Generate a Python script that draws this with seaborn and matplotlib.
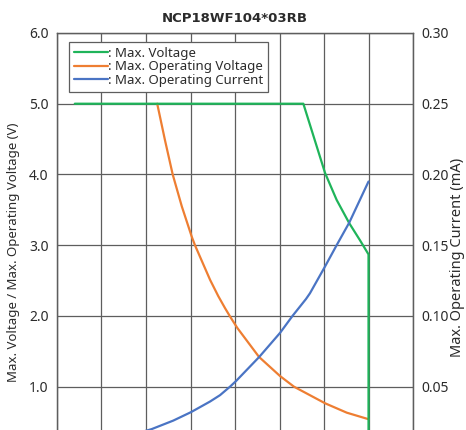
import matplotlib
matplotlib.use("Agg")
import matplotlib.pyplot as plt
import seaborn as sns
import pandas as pd
from matplotlib.ticker import FormatStrFormatter, MultipleLocator

# ---- data ----
title = "NCP18WF104*03RB"
ylabel_left = "Max. Voltage / Max. Operating Voltage (V)"
ylabel_right = "Max. Operating Current (mA)"
series_names = [": Max. Voltage", ": Max. Operating Voltage", ": Max. Operating Current"]

# ambient temperature (deg C) vs. max. voltage (V)
temp_max_v = [-40, 88.4, 100.6, 107.1, 114.2, 120.2, 125, 125]
max_voltage = [5.0, 5.0, 4.02, 3.64, 3.31, 3.07, 2.87, 0.0]

# ambient temperature (deg C) vs. max. operating voltage (V)
temp_op_v = [6.3, 10.7, 15.0, 20.1, 25.7, 27.5, 36.0, 40.6, 44.4, 47.5, 51.3,
             63.5, 75.3, 83.1, 100.6, 112.8, 125]
max_op_voltage = [5.0, 4.48, 4.0, 3.55, 3.12, 3.0, 2.51, 2.28, 2.11, 1.98, 1.83,
                  1.42, 1.15, 1.0, 0.765, 0.632, 0.54]

# ambient temperature (deg C) vs. max. operating current (mA)
temp_op_i = [-5, 3.2, 15.3, 25.3, 30.3, 36.0, 41.6, 47.2, 50.6, 63.6, 75.3, 82.3,
             89.9, 92.1, 100.6, 107.1, 114.2, 125]
max_op_current = [0.017, 0.020, 0.026, 0.032, 0.0355, 0.0395, 0.044, 0.050, 0.054,
                  0.071, 0.088, 0.100, 0.112, 0.116, 0.135, 0.150, 0.166, 0.195]

left_ticks = [1, 2, 3, 4, 5, 6]
right_ticks = [0.05, 0.10, 0.15, 0.20, 0.25, 0.30]

colors = ["#1fb45a", "#ee7e32", "#4a74c4"]
grid_c = "#5e5e5e"
text_c = "#2b2b2b"

sns.set_style("white")
plt.rcParams['font.family'] = ['Noto Sans', 'DejaVu Sans']

fig = plt.figure(figsize=(4.66, 4.30), dpi=100)
ax = fig.add_axes([0.1223, -0.0637, 0.764, 0.987])
ax2 = ax.twinx()

df_v = pd.DataFrame({"T": temp_max_v, "V": max_voltage})
df_o = pd.DataFrame({"T": temp_op_v, "V": max_op_voltage})
df_i = pd.DataFrame({"T": temp_op_i, "I": max_op_current})

sns.lineplot(data=df_v, x="T", y="V", ax=ax, color=colors[0], lw=1.6, sort=False, estimator=None, zorder=5)
sns.lineplot(data=df_o, x="T", y="V", ax=ax, color=colors[1], lw=1.6, sort=False, estimator=None, zorder=4)
sns.lineplot(data=df_i, x="T", y="I", ax=ax2, color=colors[2], lw=1.6, sort=False, estimator=None, zorder=4)

ax.set_xlim(-50, 150)
ax.set_ylim(0, 6)
ax2.set_ylim(0, 0.30)
ax.xaxis.set_major_locator(MultipleLocator(25))
ax.set_yticks(left_ticks)
ax2.set_yticks(right_ticks)
ax.yaxis.set_major_formatter(FormatStrFormatter("%.1f"))
ax2.yaxis.set_major_formatter(FormatStrFormatter("%.2f"))

ax.grid(True, color=grid_c, lw=0.9)
ax.set_axisbelow(True)
for a in (ax, ax2):
    for s in a.spines.values():
        s.set_color(grid_c)
        s.set_linewidth(0.9)
    a.tick_params(length=0, labelsize=10, colors=text_c, pad=6)
ax.tick_params(labelbottom=False)
ax.set_xlabel("")
ax.set_ylabel(ylabel_left, fontsize=9.5, color=text_c)
ax2.set_ylabel(ylabel_right, fontsize=10.5, color=text_c)
ax.yaxis.set_label_coords(-0.105, 0.484)
ax2.yaxis.set_label_coords(1.105, 0.472)
ax.set_title(title, fontsize=9.5, fontweight="bold", color=text_c, pad=8,
             family=['DejaVu Sans'])

handles = [plt.Line2D([], [], color=c, lw=1.6) for c in colors]
leg = ax.legend(handles, series_names, loc="upper left", bbox_to_anchor=(0.027, 0.985),
                fontsize=9.5, frameon=True, fancybox=False, handlelength=2.6,
                handletextpad=0.0, borderpad=0.35, labelspacing=0.05, borderaxespad=0.2)
leg.get_frame().set_edgecolor(grid_c)
leg.get_frame().set_linewidth(0.9)
leg.get_frame().set_alpha(1)
for t in leg.get_texts():
    t.set_color(text_c)
leg.set_zorder(10)

fig.savefig("out.png", dpi=100)
